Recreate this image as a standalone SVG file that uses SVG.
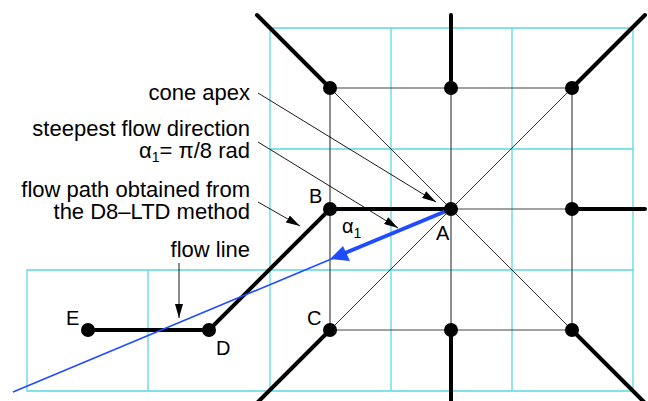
<svg xmlns="http://www.w3.org/2000/svg" width="648" height="401" viewBox="0 0 648 401">
<defs>
<style>
.cy{stroke:#5cd9e0;stroke-width:1.3;fill:none}
.gr{stroke:#444;stroke-width:1.2;fill:none}
.dg{stroke:#000;stroke-width:0.8;fill:none}
.th{stroke:#000;stroke-width:4;fill:none;stroke-linecap:round}
.ld{stroke:#000;stroke-width:0.9;fill:none}
.nd{fill:#000}
text{font-family:"Liberation Sans",Arial,Helvetica,sans-serif;fill:#000}
.lab{font-size:22px;text-anchor:end}
.pt{font-size:20px}
</style>
<marker id="ah" viewBox="0 0 14 8" refX="14" refY="4" markerWidth="14" markerHeight="8" markerUnits="userSpaceOnUse" orient="auto">
<path d="M0,0 L14,4 L0,8 Z" fill="#000"/>
</marker>
</defs>
<g id="grid">
<path class="cy" d="M270,28 H633 V391 H27 V270 H633 M270,149 H633 M270,28 V391 M391,28 V391 M512,28 V391 M148,270 V391"/>
</g>
<g id="lattice">
<path class="gr" d="M330,88 H572 M451,209 H572 M330,330 H572 M330,88 V330 M451,88 V330 M572,88 V330"/>
<path class="dg" d="M330,88 L572,330 M572,88 L330,330"/>
<path class="th" d="M330,88 L257,15 M451,88 V15 M572,88 L645,15 M572,209 H645 M330,330 L258,402 M451,330 V402 M572,330 L644,402"/>
</g>
<g id="connectors">
<path class="th" d="M451,209 H330 L209,330 H88"/>
<path d="M451,209 L13,392" stroke="#1f4cff" stroke-width="1.6" fill="none"/>
<path d="M451,209 L345,253" stroke="#1f4cff" stroke-width="4" fill="none"/>
<path d="M330,259 L343,246 L350,261 Z" fill="#1f4cff"/>
<path class="ld" d="M258,93 L436,202" marker-end="url(#ah)"/>
<path class="ld" d="M258,142 L398,228" marker-end="url(#ah)"/>
<path class="ld" d="M258,202 L300,226" marker-end="url(#ah)"/>
<path class="ld" d="M179,263 V318" marker-end="url(#ah)"/>
</g>
<g id="nodeA"><circle class="nd" cx="451" cy="209" r="7"/><text class="pt" x="436" y="240">A</text></g>
<g id="nodeB"><circle class="nd" cx="330" cy="209" r="7"/><text class="pt" x="309" y="203">B</text></g>
<g id="nodeC"><circle class="nd" cx="330" cy="330" r="7"/><text class="pt" x="307" y="325">C</text></g>
<g id="nodeD"><circle class="nd" cx="209" cy="330" r="7"/><text class="pt" x="216" y="355">D</text></g>
<g id="nodeE"><circle class="nd" cx="88" cy="330" r="7"/><text class="pt" x="66" y="325">E</text></g>
<g id="n1"><circle class="nd" cx="330" cy="88" r="7"/></g>
<g id="n2"><circle class="nd" cx="451" cy="88" r="7"/></g>
<g id="n3"><circle class="nd" cx="572" cy="88" r="7"/></g>
<g id="n4"><circle class="nd" cx="572" cy="209" r="7"/></g>
<g id="n5"><circle class="nd" cx="451" cy="330" r="7"/></g>
<g id="n6"><circle class="nd" cx="572" cy="330" r="7"/></g>
<g id="labels">
<text class="lab" x="250" y="100">cone apex</text>
<text class="lab" x="250" y="136">steepest flow direction</text>
<text class="lab" x="250" y="158">α<tspan font-size="14" dy="4">1</tspan><tspan dy="-4">= π/8 rad</tspan></text>
<text class="lab" x="250" y="197">flow path obtained from</text>
<text class="lab" x="250" y="219">the D8–LTD method</text>
<text class="lab" x="250" y="257">flow line</text>
<text class="pt" x="342" y="233">α<tspan font-size="14" dy="5">1</tspan></text>
</g>
</svg>
